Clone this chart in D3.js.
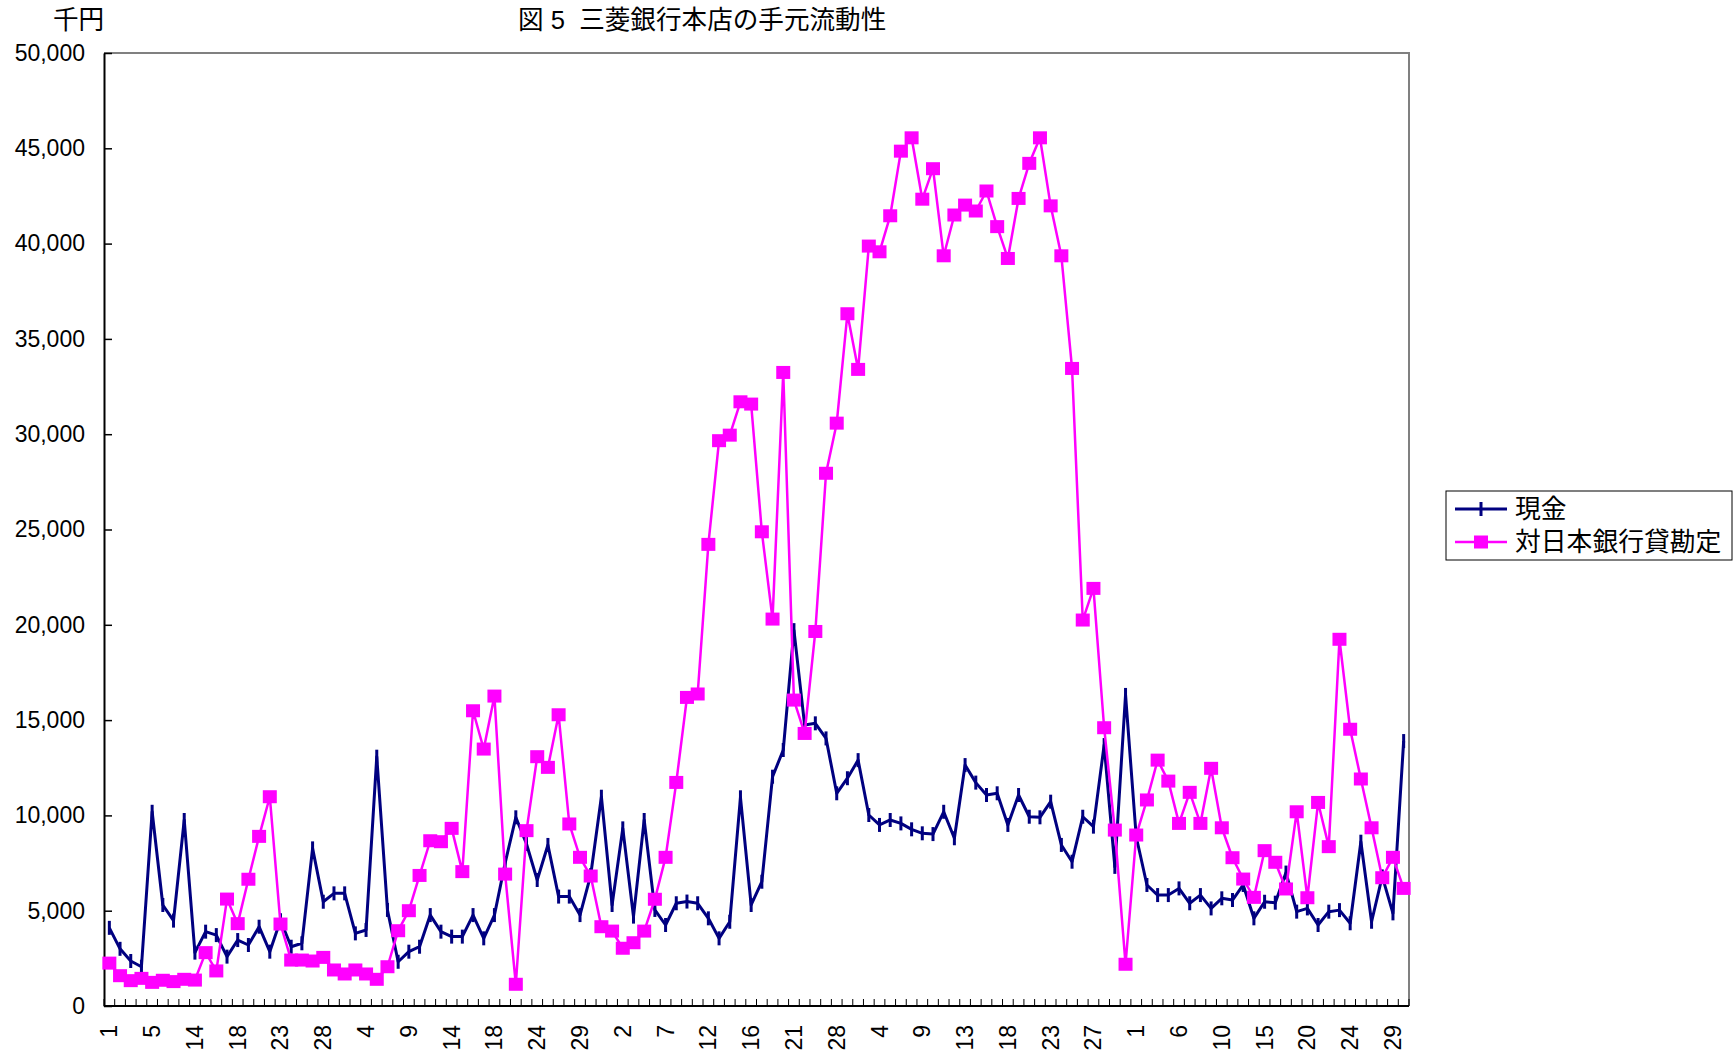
<!DOCTYPE html>
<html>
<head>
<meta charset="utf-8">
<script src="https://cdn.jsdelivr.net/npm/d3@7"></script>
<style>
  body { margin: 0; background: #fff; }
  svg { display: block; }
  text { font-family: "Liberation Sans", Arial, "Noto Sans CJK JP", sans-serif; fill: #000; }
  .cjk { font-family: "Liberation Sans", "Noto Sans CJK JP", sans-serif; }
</style>
</head>
<body>
<div id="chart"></div>
<script>
// 現金 (cash), thousand yen
var cash = [
  4100, 3000, 2360, 2060, 10190, 5300, 4480, 9760, 2800, 3900,
  3720, 2590, 3460, 3200, 4160, 2850, 4500, 3110, 3290, 8270,
  5470, 5910, 5910, 3810, 3990, 13080, 5040, 2320, 2850, 3110,
  4770, 3900, 3640, 3640, 4770, 3550, 4770, 7500, 9900, 8500,
  6610, 8450, 5740, 5740, 4770, 6870, 10980, 5300, 9320, 4690,
  9760, 5040, 4250, 5390, 5480, 5390, 4600, 3550, 4420, 10950,
  5300, 6520, 12030, 13430, 19720, 14740, 14830, 14040, 11160, 11950,
  12900, 10020, 9500, 9760, 9580, 9270, 9060, 9020, 10190, 8800,
  12640, 11720, 11070, 11160, 9500, 11070, 9930, 9900, 10720, 8450,
  7570, 9930, 9410, 13690, 7300, 16320, 8880, 6350, 5820, 5820,
  6170, 5390, 5820, 5120, 5650, 5560, 6350, 4600, 5470, 5420,
  7000, 4950, 5120, 4250, 4950, 5030, 4340, 8620, 4420, 6800,
  4860, 13900
];

// 対日本銀行貸勘定 (deposits at the Bank of Japan), thousand yen
var bojAccount = [
  2250, 1590, 1330, 1450, 1240, 1350, 1280, 1400, 1360, 2800,
  1840, 5610, 4320, 6650, 8900, 10980, 4300, 2410, 2410, 2360,
  2550, 1890, 1680, 1890, 1680, 1400, 2060, 3950, 5000, 6850,
  8670, 8620, 9320, 7050, 15490, 13480, 16260, 6920, 1140, 9200,
  13080, 12520, 15280, 9550, 7800, 6820, 4160, 3930, 3030, 3320,
  3930, 5600, 7800, 11730, 16190, 16370, 24220, 29660, 29950, 31700,
  31580, 24880, 20300, 33240, 16050, 14300, 19650, 27950, 30580, 36320,
  33400, 39870, 39570, 41460, 44850, 45550, 42330, 43930, 39360, 41500,
  42020, 41710, 42760, 40890, 39220, 42370, 44210, 45550, 41980, 39360,
  33450, 20250, 21910, 14600, 9230, 2190, 8970, 10810, 12900, 11800,
  9580, 11210, 9580, 12470, 9350, 7780, 6660, 5700, 8150, 7540,
  6140, 10190, 5680, 10680, 8360, 19240, 14520, 11910, 9350, 6730,
  7800, 6170
];

// day labels shown on every 4th category
var dayLabels = [1, 5, 14, 18, 23, 28, 4, 9, 14, 18, 24, 29, 2, 7, 12, 16,
                 21, 28, 4, 9, 13, 18, 23, 27, 1, 6, 10, 15, 20, 24, 29];
var labelEvery = 4;

var yTicks = [0, 5000, 10000, 15000, 20000, 25000, 30000, 35000, 40000, 45000, 50000];

var seriesNames = ['現金', '対日本銀行貸勘定'];
var colors = ['#000080', '#ff00ff'];

var width = 1735, height = 1058;
var plot = { left: 104, right: 1409, top: 53, bottom: 1006 };

var svg = d3.select('#chart').append('svg')
  .attr('width', width)
  .attr('height', height);

var idx = d3.range(cash.length);

var x = d3.scaleBand()
  .domain(idx)
  .range([plot.left, plot.right])
  .padding(0);

var y = d3.scaleLinear()
  .domain([0, 50000])
  .range([plot.bottom, plot.top]);

function cx(i) { return x(i) + x.bandwidth() / 2; }

// plot frame (top & right grey)
svg.append('path')
  .attr('d', 'M' + plot.left + ',' + plot.top + 'H' + plot.right + 'V' + plot.bottom)
  .attr('fill', 'none')
  .attr('stroke', '#808080')
  .attr('stroke-width', 2);

// y axis
var yAxis = svg.append('g')
  .attr('transform', 'translate(' + plot.left + ',0)')
  .call(d3.axisLeft(y)
    .tickValues(yTicks)
    .tickSizeInner(-8)
    .tickSizeOuter(0)
    .tickPadding(19)
    .tickFormat(d3.format(',')));
yAxis.select('.domain').attr('stroke', '#000').attr('stroke-width', 2);
yAxis.selectAll('.tick line').attr('stroke', '#000').attr('stroke-width', 1.5);
yAxis.selectAll('.tick text')
  .attr('font-size', 23)
  .attr('font-family', '"Liberation Sans", Arial, sans-serif');

// x axis: line, ticks at category boundaries, rotated day labels
var xAxis = svg.append('g');
xAxis.append('line')
  .attr('x1', plot.left).attr('x2', plot.right)
  .attr('y1', plot.bottom).attr('y2', plot.bottom)
  .attr('stroke', '#000').attr('stroke-width', 2);

xAxis.selectAll('.xtick')
  .data(d3.range(cash.length + 1))
  .enter().append('line')
  .attr('class', 'xtick')
  .attr('x1', function (d) { return plot.left + d * x.step(); })
  .attr('x2', function (d) { return plot.left + d * x.step(); })
  .attr('y1', plot.bottom)
  .attr('y2', plot.bottom - 7)
  .attr('stroke', '#000')
  .attr('stroke-width', 1);

xAxis.selectAll('.xlabel')
  .data(idx.filter(function (i) { return i % labelEvery === 0; }))
  .enter().append('text')
  .attr('class', 'xlabel')
  .attr('transform', function (i) { return 'translate(' + (cx(i) + 8) + ',' + (plot.bottom + 19) + ') rotate(-90)'; })
  .attr('text-anchor', 'end')
  .attr('font-size', 23)
  .text(function (i) { return dayLabels[i / labelEvery]; });

// series
var line = d3.line()
  .x(function (d, i) { return cx(i); })
  .y(function (d) { return y(d); });

var tick = 'M0,-7V7';

// cash series
svg.append('path')
  .datum(cash)
  .attr('d', line)
  .attr('fill', 'none')
  .attr('stroke', colors[0])
  .attr('stroke-width', 3)
  .attr('stroke-linejoin', 'round');

svg.selectAll('.cash-marker')
  .data(cash)
  .enter().append('path')
  .attr('class', 'cash-marker')
  .attr('d', tick)
  .attr('transform', function (d, i) { return 'translate(' + cx(i) + ',' + y(d) + ')'; })
  .attr('stroke', colors[0])
  .attr('stroke-width', 3)
  .attr('fill', 'none');

// BoJ account series
svg.append('path')
  .datum(bojAccount)
  .attr('d', line)
  .attr('fill', 'none')
  .attr('stroke', colors[1])
  .attr('stroke-width', 2.5)
  .attr('stroke-linejoin', 'round');

svg.selectAll('.boj-marker')
  .data(bojAccount)
  .enter().append('rect')
  .attr('class', 'boj-marker')
  .attr('x', function (d, i) { return cx(i) - 7; })
  .attr('y', function (d) { return y(d) - 6.5; })
  .attr('width', 14)
  .attr('height', 13)
  .attr('fill', colors[1]);

// titles
svg.append('text')
  .attr('class', 'cjk')
  .attr('x', 53).attr('y', 29)
  .attr('font-size', 25.6)
  .text('千円');

svg.append('text')
  .attr('class', 'cjk')
  .attr('x', 518).attr('y', 29)
  .attr('font-size', 25.6)
  .attr('xml:space', 'preserve')
  .text('図 5  三菱銀行本店の手元流動性');

// legend
var legend = svg.append('g').attr('transform', 'translate(1446,491)');
legend.append('rect')
  .attr('x', 0).attr('y', 0)
  .attr('width', 286).attr('height', 69)
  .attr('fill', '#fff')
  .attr('stroke', '#000')
  .attr('stroke-width', 1);

var rows = legend.selectAll('.lg')
  .data(seriesNames)
  .enter().append('g')
  .attr('class', 'lg')
  .attr('transform', function (d, i) { return 'translate(0,' + (18 + i * 33) + ')'; });

rows.append('line')
  .attr('x1', 9).attr('x2', 61)
  .attr('y1', 0).attr('y2', 0)
  .attr('stroke', function (d, i) { return colors[i]; })
  .attr('stroke-width', function (d, i) { return i === 0 ? 3 : 2.5; });

rows.each(function (d, i) {
  var g = d3.select(this);
  if (i === 0) {
    g.append('path').attr('d', tick).attr('transform', 'translate(35,0)')
      .attr('stroke', colors[0]).attr('stroke-width', 3);
  } else {
    g.append('rect').attr('x', 28).attr('y', -6.5).attr('width', 14).attr('height', 13)
      .attr('fill', colors[1]);
  }
});

rows.append('text')
  .attr('class', 'cjk')
  .attr('x', 69).attr('y', 9)
  .attr('font-size', 25.8)
  .text(function (d) { return d; });
</script>
</body>
</html>
